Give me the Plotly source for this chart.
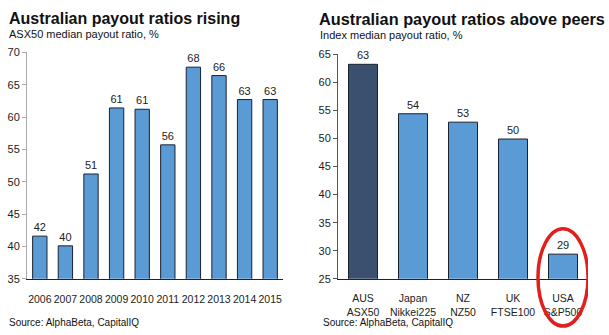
import plotly.graph_objects as go

years = ["2006", "2007", "2008", "2009", "2010", "2011", "2012", "2013", "2014", "2015"]
asx_payout = [41.6, 40.1, 51.2, 61.4, 61.2, 55.7, 67.7, 66.4, 62.7, 62.7]
asx_labels = ["42", "40", "51", "61", "61", "56", "68", "66", "63", "63"]

indices = ["AUS<br>ASX50", "Japan<br>Nikkei225", "NZ<br>NZ50", "UK<br>FTSE100", "USA<br>S&P500"]
index_payout = [63.2, 54.4, 52.9, 49.9, 29.4]
index_labels = ["63", "54", "53", "50", "29"]

LIGHT = "#5B9BD5"
DARK = "#3A506E"
FONT = "Liberation Sans, Arial, sans-serif"
W, H = 609, 335

fig = go.Figure()
fig.add_trace(go.Bar(
    x=list(range(len(years))), y=asx_payout, text=asx_labels,
    textposition="outside", cliponaxis=False,
    textfont=dict(size=11, color="#222222", family=FONT),
    marker=dict(color=LIGHT, line=dict(color="#1a2230", width=1)),
    width=0.56, xaxis="x", yaxis="y", showlegend=False,
))
fig.add_trace(go.Bar(
    x=list(range(len(indices))), y=index_payout, text=index_labels,
    textposition="outside", cliponaxis=False,
    textfont=dict(size=11, color="#222222", family=FONT),
    marker=dict(color=[DARK] + [LIGHT] * 4, line=dict(color="#1a2230", width=1)),
    width=0.58, xaxis="x2", yaxis="y2", showlegend=False,
))

def px_x(p):
    return p / W

def px_y(p):
    return (H - p) / H

fig.update_layout(
    width=W, height=H, margin=dict(l=0, r=0, t=0, b=0),
    paper_bgcolor="white", plot_bgcolor="white",
    font=dict(family=FONT, color="#222222"),
    xaxis=dict(domain=[px_x(27), px_x(283)], range=[-0.5, 9.5],
               tickvals=list(range(len(years))), ticktext=years, tickangle=0,
               showgrid=False, zeroline=False, showline=True, linecolor="#222222",
               linewidth=1, ticks="", ticklabelstandoff=11,
               tickfont=dict(size=10.5, color="#222222")),
    yaxis=dict(domain=[px_y(283), px_y(48)], range=[35, 70], dtick=5,
               showgrid=False, zeroline=False, showline=True, linecolor="#aaaaaa",
               ticks="outside", ticklen=4, tickcolor="#aaaaaa",
               tickfont=dict(size=11, color="#222222")),
    xaxis2=dict(domain=[px_x(338), px_x(588)], range=[-0.5, 4.5],
                tickvals=list(range(len(indices))), ticktext=indices, tickangle=0,
                showgrid=False, zeroline=False, showline=True, linecolor="#222222",
                linewidth=1, ticks="", anchor="y2", ticklabelstandoff=10,
                tickfont=dict(size=10.5, color="#222222")),
    yaxis2=dict(domain=[px_y(283), px_y(50)], range=[25, 65], dtick=5,
                showgrid=False, zeroline=False, showline=True, linecolor="#555555",
                ticks="outside", ticklen=4, tickcolor="#555555", anchor="x2",
                tickfont=dict(size=11, color="#222222")),
    bargap=0.4,
)

annos = [
    dict(text="<b>Australian payout ratios rising</b>", x=px_x(7), y=px_y(13),
         font=dict(size=16, color="#111111")),
    dict(text="ASX50 median payout ratio, %", x=px_x(7), y=px_y(29),
         font=dict(size=11, color="#111111")),
    dict(text="<b>Australian payout ratios above peers</b>", x=px_x(317), y=px_y(13),
         font=dict(size=16.3, color="#111111")),
    dict(text="Index median payout ratio, %", x=px_x(318), y=px_y(30),
         font=dict(size=11, color="#111111")),
    dict(text="Source: AlphaBeta, CapitalIQ", x=px_x(7), y=px_y(328),
         font=dict(size=10, color="#111111")),
    dict(text="Source: AlphaBeta, CapitalIQ", x=px_x(321), y=px_y(328),
         font=dict(size=10, color="#111111")),
]
for a in annos:
    fig.add_annotation(xref="paper", yref="paper", xanchor="left", yanchor="middle",
                       showarrow=False, **a)

fig.add_shape(type="circle", xref="x2", yref="paper", xsizemode="pixel",
              xanchor=4, x0=-25, x1=25, y0=px_y(332), y1=px_y(231),
              line=dict(color="#E0201E", width=3.5))

fig.write_html("out.html")
